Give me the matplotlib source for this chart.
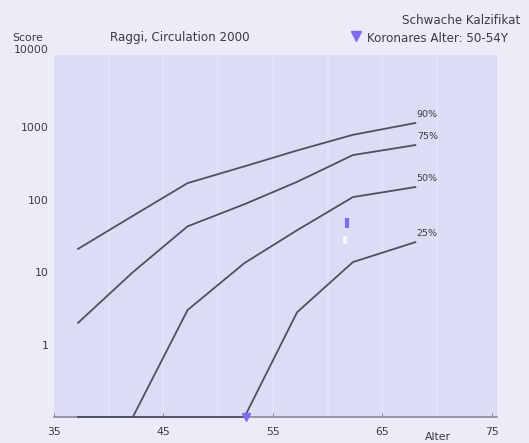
import matplotlib

matplotlib.use("Agg")

import matplotlib.pyplot as plt
import numpy as np

# percentile curves of coronary calcium score by age (Raggi, Circulation 2000)
ages = [37.2, 42.2, 47.2, 52.4, 57.2, 62.3, 68.0]
p90 = [21, 60, 170, 290, 480, 790, 1150]
p75 = [2.0, 10, 43, 87, 177, 415, 570]
p50 = [0, 0, 3.0, 13.4, 38, 109, 150]
p25 = [0, 0, 0, 0, 2.8, 13.8, 26]
curves = [("90%", p90), ("75%", p75), ("50%", p50), ("25%", p25)]

patient_age = 52.5
patient_score = 0
x_ticks = [35, 45, 55, 65, 75]
y_ticks = [1, 10, 100, 1000, 10000]

W, H = 529, 443
FLOOR = 0.1
LINE = "#4f5060"
MARK = "#7b6cf0"
TXT = "#3a3a44"

plt.rcParams["font.family"] = ["DejaVu Sans"]

fig = plt.figure(figsize=(W / 100, H / 100), dpi=100, facecolor="#ececf9")
# plot area in pixel coordinates: left 54, right 497, top 55, bottom 417
ax = fig.add_axes([54 / W, (H - 417) / H, 443 / W, 362 / H])
ax.set_facecolor("#dcdcf4")
ax.set_yscale("log")
ax.set_xlim(35, 35 + 443 / 10.95)
ax.set_ylim(FLOOR, 10000)

for x in np.arange(40, 75, 5):
    ax.axvline(x, color="#e2e2f7", lw=1.5, zorder=0)

for label, vals in curves:
    y = np.where(np.asarray(vals, dtype=float) > 0, vals, FLOOR)
    ax.plot(ages, y, color=LINE, lw=1.3, clip_on=False, zorder=3)
    ax.annotate(label, (ages[-1], y[-1]), xytext=(1, 3), textcoords="offset points",
                fontsize=6.8, color=TXT, ha="left", va="bottom")

ax.plot(patient_age, max(patient_score, FLOOR), marker="v", ms=6, color=MARK,
        clip_on=False, zorder=5)
# small figure symbol near the curves
ax.plot(61.8, 48, marker="|", ms=7, mew=3, color=MARK, zorder=4)
ax.plot(61.6, 28, marker="|", ms=6, mew=3, color="#f6f6ff", zorder=4)

for s in ("top", "right", "left"):
    ax.spines[s].set_visible(False)
ax.spines["bottom"].set_color("#8a8a98")
ax.spines["bottom"].set_linewidth(1.2)

ax.set_xticks(x_ticks)
ax.set_xticklabels([str(t) for t in x_ticks])
ax.tick_params(axis="x", direction="in", length=3, color="#8a8a98",
               labelsize=7.8, labelcolor=TXT, pad=7)
ax.set_yticks(y_ticks)
ax.set_yticklabels([str(t) for t in y_ticks])
ax.yaxis.set_minor_locator(matplotlib.ticker.NullLocator())
ax.tick_params(axis="y", length=0, labelsize=7.8, labelcolor=TXT, pad=4)
ax.get_yticklabels()[-1].set_va("bottom")

fig.text(12 / W, 1 - 38 / H, "Score", fontsize=7.8, color=TXT, va="center")
fig.text(425 / W, 1 - 437 / H, "Alter", fontsize=7.8, color=TXT, va="center")
fig.text(110 / W, 1 - 38 / H, "Raggi, Circulation 2000", fontsize=8.6,
         color=TXT, va="center")
# the reference shows this heading cut at the right border
fig.text(402 / W, 1 - 20 / H, "Schwache Kalzifikat", fontsize=8.6,
         color=TXT, va="center")
fig.text(367 / W, 1 - 38 / H, "Koronares Alter: 50-54Y", fontsize=8.6,
         color=TXT, va="center")
fig.lines.append(matplotlib.lines.Line2D([356 / W], [1 - 36 / H], marker="v", ms=7,
                                         color=MARK, transform=fig.transFigure))

fig.savefig("out.png", dpi=100, facecolor=fig.get_facecolor())
